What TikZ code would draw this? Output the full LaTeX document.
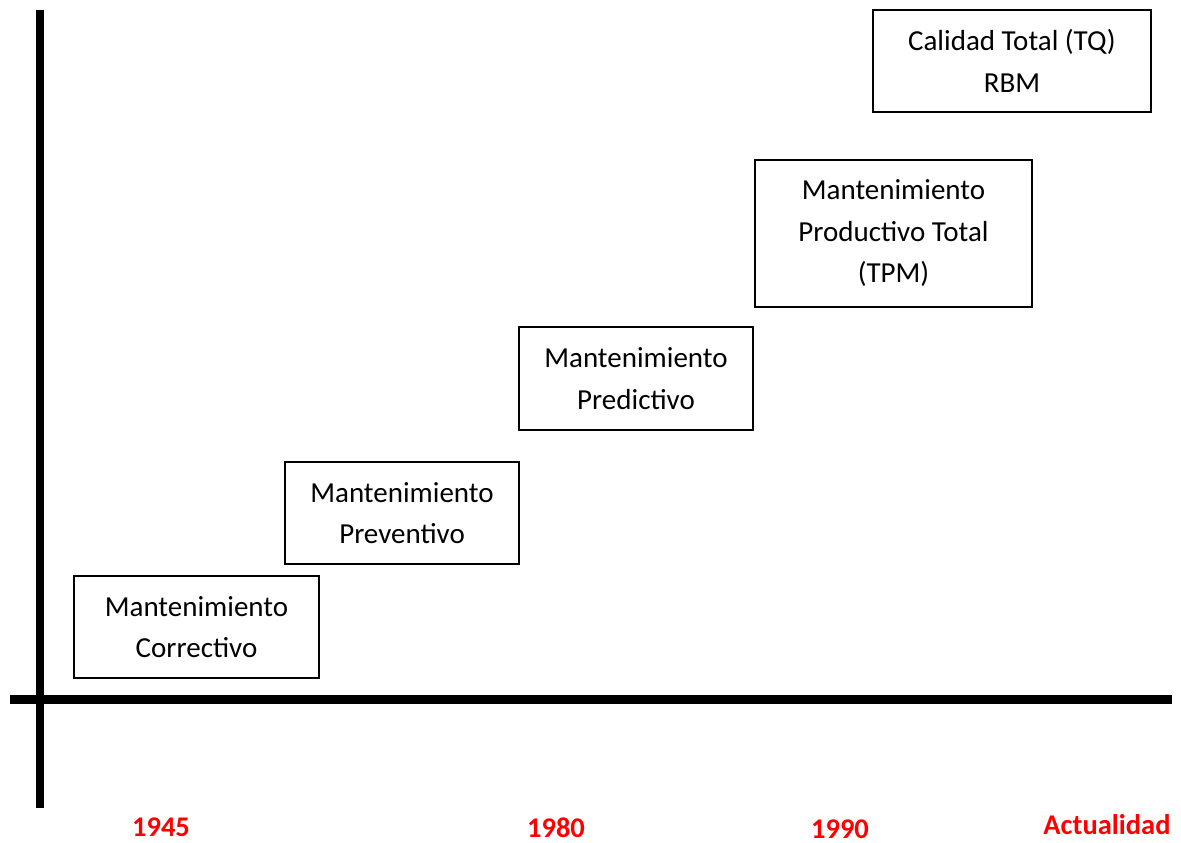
\documentclass[tikz,border=0pt]{standalone}
\usepackage{fontspec}
\setmainfont{Carlito}
\begin{document}
\begin{tikzpicture}[x=1pt,y=-1pt,
  stage/.style={draw=black, line width=2pt, fill=white, inner sep=0pt, align=center,
    font=\fontsize{29}{41.5}\selectfont},
  era/.style={anchor=base, text=red, inner sep=0pt, font=\fontsize{28.5}{30}\selectfont\bfseries},
  axis/.style={line width=8.5pt, black}]
\useasboundingbox (0,0) rectangle (1181,843);
% axes
\coordinate (ytop) at (40,10);
\coordinate (ybot) at (40,808);
\coordinate (xl) at (10,699.5);
\coordinate (xr) at (1172,699.5);
\draw[axis] (ytop) -- (ybot);
\draw[axis] (xl) -- (xr);
% stages of maintenance
\node[stage, minimum width=245pt, minimum height=102pt] (corr) at (196.5,627) {Mantenimiento\\Correctivo};
\node[stage, minimum width=234pt, minimum height=102pt] (prev) at (402,513) {Mantenimiento\\Preventivo};
\node[stage, minimum width=234pt, minimum height=103pt] (pred) at (636,378.5) {Mantenimiento\\Predictivo};
\node[stage, minimum width=277pt, minimum height=147pt] (tpm) at (893.5,233.5) {Mantenimiento\\Productivo Total\\(TPM)};
\node[stage, minimum width=278pt, minimum height=102pt] (tq) at (1012,61) {Calidad Total (TQ)\\RBM};
% time labels
\node[era] (y1945) at (161,836) {1945};
\node[era] (y1980) at (556,837) {1980};
\node[era] (y1990) at (840,838) {1990};
\node[era] (now) at (1107,834) {Actualidad};
\end{tikzpicture}
\end{document}
